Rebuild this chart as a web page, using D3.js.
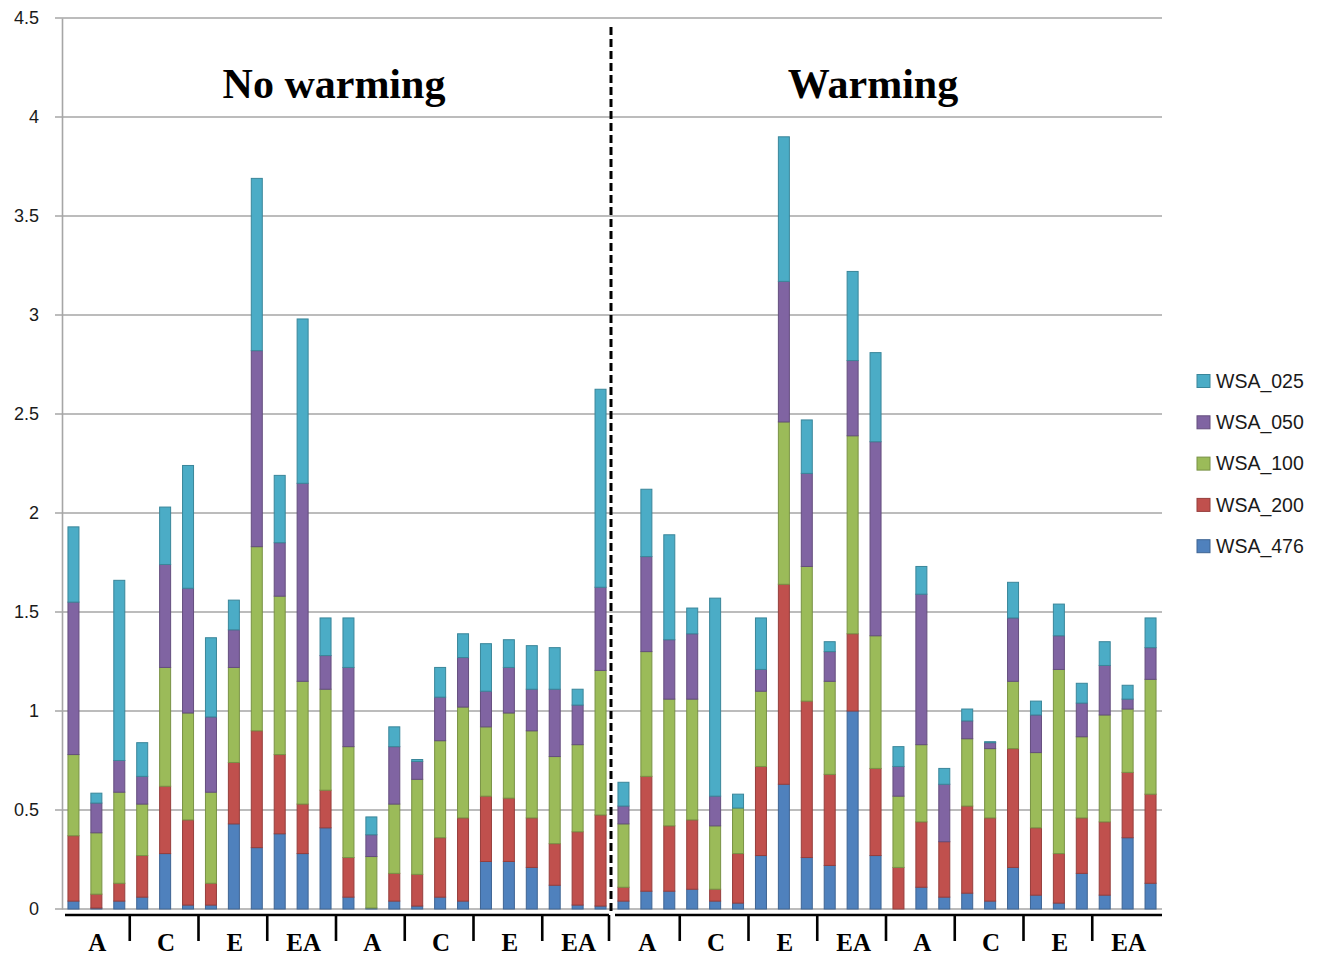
<!DOCTYPE html>
<html>
<head>
<meta charset="utf-8">
<script src="https://cdn.jsdelivr.net/npm/d3@7"></script>
<style>
  html, body { margin: 0; padding: 0; background: #fff; }
  svg { display: block; }
</style>
</head>
<body>
<svg id="chart" width="1320" height="961"></svg>
<script>
// Water-stable aggregate fractions, stacked per sample (48 bars)
const treatments = ["No warming", "Warming"];
const groupLabels = ["A", "C", "E", "EA", "A", "C", "E", "EA",
                     "A", "C", "E", "EA", "A", "C", "E", "EA"];
const seriesNames = ["WSA_476", "WSA_200", "WSA_100", "WSA_050", "WSA_025"];
const seriesColors = ["#4F81BD", "#C0504D", "#9BBB59", "#8064A2", "#4BACC6"];
const yTicks = [0, 0.5, 1, 1.5, 2, 2.5, 3, 3.5, 4, 4.5];

const wsa476 = [0.04, 0.005, 0.04, 0.06, 0.28, 0.02, 0.02, 0.43, 0.31, 0.38, 0.28, 0.41,
                0.06, 0.005, 0.04, 0.015, 0.06, 0.04, 0.24, 0.24, 0.21, 0.12, 0.02, 0.015,
                0.04, 0.09, 0.09, 0.10, 0.04, 0.03, 0.27, 0.63, 0.26, 0.22, 1.00, 0.27,
                0.0, 0.11, 0.06, 0.08, 0.04, 0.21, 0.07, 0.03, 0.18, 0.07, 0.36, 0.13];
const wsa200 = [0.33, 0.07, 0.09, 0.21, 0.34, 0.43, 0.11, 0.31, 0.59, 0.40, 0.25, 0.19,
                0.20, 0.0, 0.14, 0.16, 0.30, 0.42, 0.33, 0.32, 0.25, 0.21, 0.37, 0.46,
                0.07, 0.58, 0.33, 0.35, 0.06, 0.25, 0.45, 1.01, 0.79, 0.46, 0.39, 0.44,
                0.21, 0.33, 0.28, 0.44, 0.42, 0.60, 0.34, 0.25, 0.28, 0.37, 0.33, 0.45];
const wsa100 = [0.41, 0.31, 0.46, 0.26, 0.60, 0.54, 0.46, 0.48, 0.93, 0.80, 0.62, 0.51,
                0.56, 0.26, 0.35, 0.48, 0.49, 0.56, 0.35, 0.43, 0.44, 0.44, 0.44, 0.73,
                0.32, 0.63, 0.64, 0.61, 0.32, 0.23, 0.38, 0.82, 0.68, 0.47, 1.00, 0.67,
                0.36, 0.39, 0.0, 0.34, 0.35, 0.34, 0.38, 0.93, 0.41, 0.54, 0.32, 0.58];
const wsa050 = [0.77, 0.15, 0.16, 0.14, 0.52, 0.63, 0.38, 0.19, 0.99, 0.27, 1.00, 0.17,
                0.40, 0.11, 0.29, 0.09, 0.22, 0.25, 0.18, 0.23, 0.21, 0.34, 0.20, 0.42,
                0.09, 0.48, 0.30, 0.33, 0.15, 0.0, 0.11, 0.71, 0.47, 0.15, 0.38, 0.98,
                0.15, 0.76, 0.29, 0.09, 0.03, 0.32, 0.19, 0.17, 0.17, 0.25, 0.05, 0.16];
const wsa025 = [0.38, 0.05, 0.91, 0.17, 0.29, 0.62, 0.40, 0.15, 0.87, 0.34, 0.83, 0.19,
                0.25, 0.09, 0.10, 0.01, 0.15, 0.12, 0.24, 0.14, 0.22, 0.21, 0.08, 1.00,
                0.12, 0.34, 0.53, 0.13, 1.00, 0.07, 0.26, 0.73, 0.27, 0.05, 0.45, 0.45,
                0.10, 0.14, 0.08, 0.06, 0.005, 0.18, 0.07, 0.16, 0.10, 0.12, 0.07, 0.15];

const seriesValues = [wsa476, wsa200, wsa100, wsa050, wsa025];

// Tabular rows for d3.stack
const rows = wsa476.map((_, i) => {
  const r = { idx: i };
  seriesNames.forEach((s, k) => { r[s] = seriesValues[k][i]; });
  return r;
});

const svg = d3.select("#chart");
const plot = { left: 62, right: 1162, top: 18, bottom: 909 };

const x = d3.scaleBand()
  .domain(d3.range(rows.length))
  .range([plot.left, plot.right])
  .paddingInner(0.52)
  .paddingOuter(0.26);

const xGroup = d3.scaleBand()
  .domain(d3.range(groupLabels.length))
  .range([plot.left, plot.right])
  .padding(0);

const y = d3.scaleLinear().domain([0, 4.5]).range([plot.bottom, plot.top]);

const color = d3.scaleOrdinal().domain(seriesNames).range(seriesColors);

// Horizontal gridlines
svg.append("g")
  .selectAll("line")
  .data(yTicks)
  .join("line")
  .attr("x1", plot.left - 7)
  .attr("x2", plot.right)
  .attr("y1", d => y(d))
  .attr("y2", d => y(d))
  .attr("stroke", "#A6A6A6")
  .attr("stroke-width", 1.6);

// Vertical value axis
const yAxis = d3.axisLeft(y)
  .tickValues(yTicks)
  .tickFormat(d => String(d))
  .tickSize(0)
  .tickPadding(23);

const gy = svg.append("g")
  .attr("transform", `translate(${plot.left},0)`)
  .call(yAxis);
gy.select(".domain").attr("stroke", "#A6A6A6").attr("stroke-width", 1.6);
gy.selectAll("text")
  .attr("font-family", "'Liberation Sans', Arial, sans-serif")
  .attr("font-size", 18)
  .attr("fill", "#1a1a1a");

// Stacked bars
const stack = d3.stack().keys(seriesNames);
const layers = stack(rows);

svg.append("g")
  .selectAll("g")
  .data(layers)
  .join("g")
  .attr("fill", d => color(d.key))
  .attr("stroke", d => d3.color(color(d.key)).darker(0.7))
  .attr("stroke-width", 1)
  .selectAll("rect")
  .data(d => d)
  .join("rect")
  .attr("x", d => x(d.data.idx))
  .attr("width", x.bandwidth())
  .attr("y", d => y(d[1]))
  .attr("height", d => Math.max(0, y(d[0]) - y(d[1])));

// Category axis: two black baseline segments with group separators
const mid = xGroup(8);
const axisY = 915;
const axisG = svg.append("g")
  .attr("stroke", "#000")
  .attr("stroke-width", 2.6)
  .attr("fill", "none");
axisG.append("line").attr("x1", plot.left + 3).attr("x2", mid - 3)
  .attr("y1", axisY).attr("y2", axisY);
axisG.append("line").attr("x1", mid + 3).attr("x2", plot.right)
  .attr("y1", axisY).attr("y2", axisY);

const sepIdx = d3.range(1, groupLabels.length);
axisG.selectAll("line.sep")
  .data(sepIdx)
  .join("line")
  .attr("class", "sep")
  .attr("x1", i => i === 8 ? mid - 3 : xGroup(i) - 1)
  .attr("x2", i => i === 8 ? mid - 3 : xGroup(i) - 1)
  .attr("y1", axisY)
  .attr("y2", 941);

svg.append("g")
  .selectAll("text")
  .data(groupLabels)
  .join("text")
  .attr("x", (d, i) => xGroup(i) + xGroup.bandwidth() / 2 + 1)
  .attr("y", 951)
  .attr("text-anchor", "middle")
  .attr("font-family", "'Liberation Serif', 'Times New Roman', serif")
  .attr("font-weight", "bold")
  .attr("font-size", 25)
  .attr("fill", "#000")
  .text(d => d);

// Dashed divider between treatments
svg.append("line")
  .attr("x1", mid - 1).attr("x2", mid - 1)
  .attr("y1", 27).attr("y2", 913)
  .attr("stroke", "#000")
  .attr("stroke-width", 3)
  .attr("stroke-dasharray", "8,4");

// Treatment titles
const titleX = [xGroup(4) - 3, xGroup(12) - 14];
svg.append("g")
  .selectAll("text")
  .data(treatments)
  .join("text")
  .attr("x", (d, i) => titleX[i])
  .attr("y", 98)
  .attr("text-anchor", "middle")
  .attr("font-family", "'Liberation Serif', 'Times New Roman', serif")
  .attr("font-weight", "bold")
  .attr("font-size", 42)
  .attr("fill", "#000")
  .text(d => d);

// Legend (top series listed first)
const legendKeys = seriesNames.slice().reverse();
const legend = svg.append("g").attr("transform", "translate(1197,381)");
const li = legend.selectAll("g")
  .data(legendKeys)
  .join("g")
  .attr("transform", (d, i) => `translate(0,${i * 41.3})`);
li.append("rect")
  .attr("x", 0).attr("y", -6.5)
  .attr("width", 13).attr("height", 13)
  .attr("fill", d => color(d))
  .attr("stroke", d => d3.color(color(d)).darker(0.7))
  .attr("stroke-width", 1);
li.append("text")
  .attr("x", 19)
  .attr("y", 0)
  .attr("dy", "0.35em")
  .attr("font-family", "'Liberation Sans', Arial, sans-serif")
  .attr("font-size", 19.5)
  .attr("fill", "#1a1a1a")
  .text(d => d);
</script>
</body>
</html>
